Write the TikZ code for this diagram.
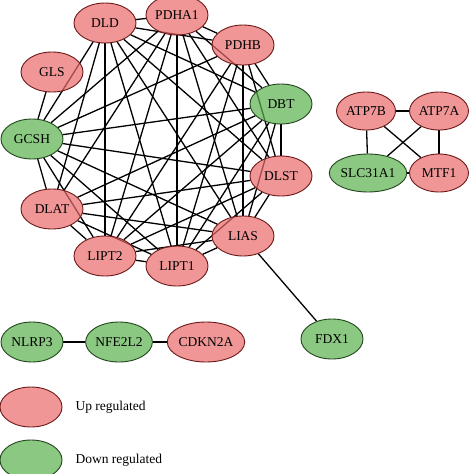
\documentclass[tikz,border=0pt]{standalone}
\usepackage{fontspec}
\setmainfont{Liberation Serif}
\usetikzlibrary{shapes.geometric,backgrounds}
\definecolor{upfill}{RGB}{234,106,106}
\definecolor{updraw}{RGB}{110,25,25}
\definecolor{dnfill}{RGB}{91,177,77}
\definecolor{dndraw}{RGB}{35,70,30}
\tikzset{
  gene/.style={ellipse, minimum width=62pt, minimum height=40pt, inner sep=0pt,
    fill opacity=0.7, text opacity=1, line width=0.9pt, font=\fontsize{13.5}{13.5}\selectfont},
  up/.style={gene, fill=upfill, draw=updraw},
  down/.style={gene, fill=dnfill, draw=dndraw},
  small/.style={minimum width=59pt, minimum height=38pt},
  link/.style={line width=1.3pt, black},
  legendtext/.style={anchor=west, font=\fontsize{13.5}{13.5}\selectfont}
}
\begin{document}
\begin{tikzpicture}[x=1pt,y=-1pt]
\useasboundingbox (0,0) rectangle (474,474);
% ring
\node[up] (pdha) at (177,15) {PDHA1};
\node[up] (dld) at (105,23) {DLD};
\node[up] (pdhb) at (243,45) {PDHB};
\node[up] (gls) at (52,72) {GLS};
\node[down] (dbt) at (281,104) {DBT};
\node[down] (gcsh) at (32,139) {GCSH};
\node[up] (dlst) at (281,176) {DLST};
\node[up] (dlat) at (52,209) {DLAT};
\node[up] (lias) at (243,236) {LIAS};
\node[up] (lipttwo) at (105,256) {LIPT2};
\node[up] (liptone) at (177,266) {LIPT1};
% right cluster
\node[up,small] (atpb) at (366,111) {ATP7B};
\node[up,small] (atpa) at (439,111) {ATP7A};
\node[down,small] (slc) at (368,173) {SLC31A1};
\node[up,small] (mtf) at (439,173) {MTF1};
% bottom
\node[down] (nlrp) at (32,342) {NLRP3};
\node[down] (nfe) at (119,342) {NFE2L2};
\node[up] (cdkn) at (206,342) {CDKN2A};
\node[down] (fdx) at (332,339) {FDX1};
% legend
\node[up] (legup) at (31,407) {};
\node[down] (legdown) at (31,460) {};
\node[legendtext] (tup) at (72,407) {Up regulated};
\node[legendtext] (tdown) at (72,460) {Down regulated};
\begin{pgfonlayer}{background}
\fill[white] (0,0) rectangle (474,474);
\foreach \a/\b in {pdha/dld,pdha/pdhb,pdha/dbt,pdha/gcsh,pdha/dlst,pdha/dlat,pdha/lias,pdha/lipttwo,pdha/liptone,
  dld/pdhb,dld/dbt,dld/gcsh,dld/dlst,dld/dlat,dld/lias,dld/lipttwo,dld/liptone,
  pdhb/dbt,pdhb/gcsh,pdhb/dlst,pdhb/lias,pdhb/lipttwo,pdhb/liptone,
  dbt/gcsh,dbt/dlst,dbt/dlat,dbt/lias,dbt/lipttwo,dbt/liptone,
  gcsh/dlst,gcsh/dlat,gcsh/lias,gcsh/lipttwo,gcsh/liptone,gcsh/gls,
  dlst/dlat,dlst/lias,dlst/lipttwo,dlst/liptone,
  dlat/lias,dlat/lipttwo,dlat/liptone,
  lias/lipttwo,lias/liptone,lias/fdx,
  lipttwo/liptone,
  atpb/atpa,atpb/slc,atpb/mtf,atpa/slc,atpa/mtf,slc/mtf,
  nlrp/nfe,nfe/cdkn}
  \draw[link] (\a) -- (\b);
\end{pgfonlayer}
\end{tikzpicture}
\end{document}
